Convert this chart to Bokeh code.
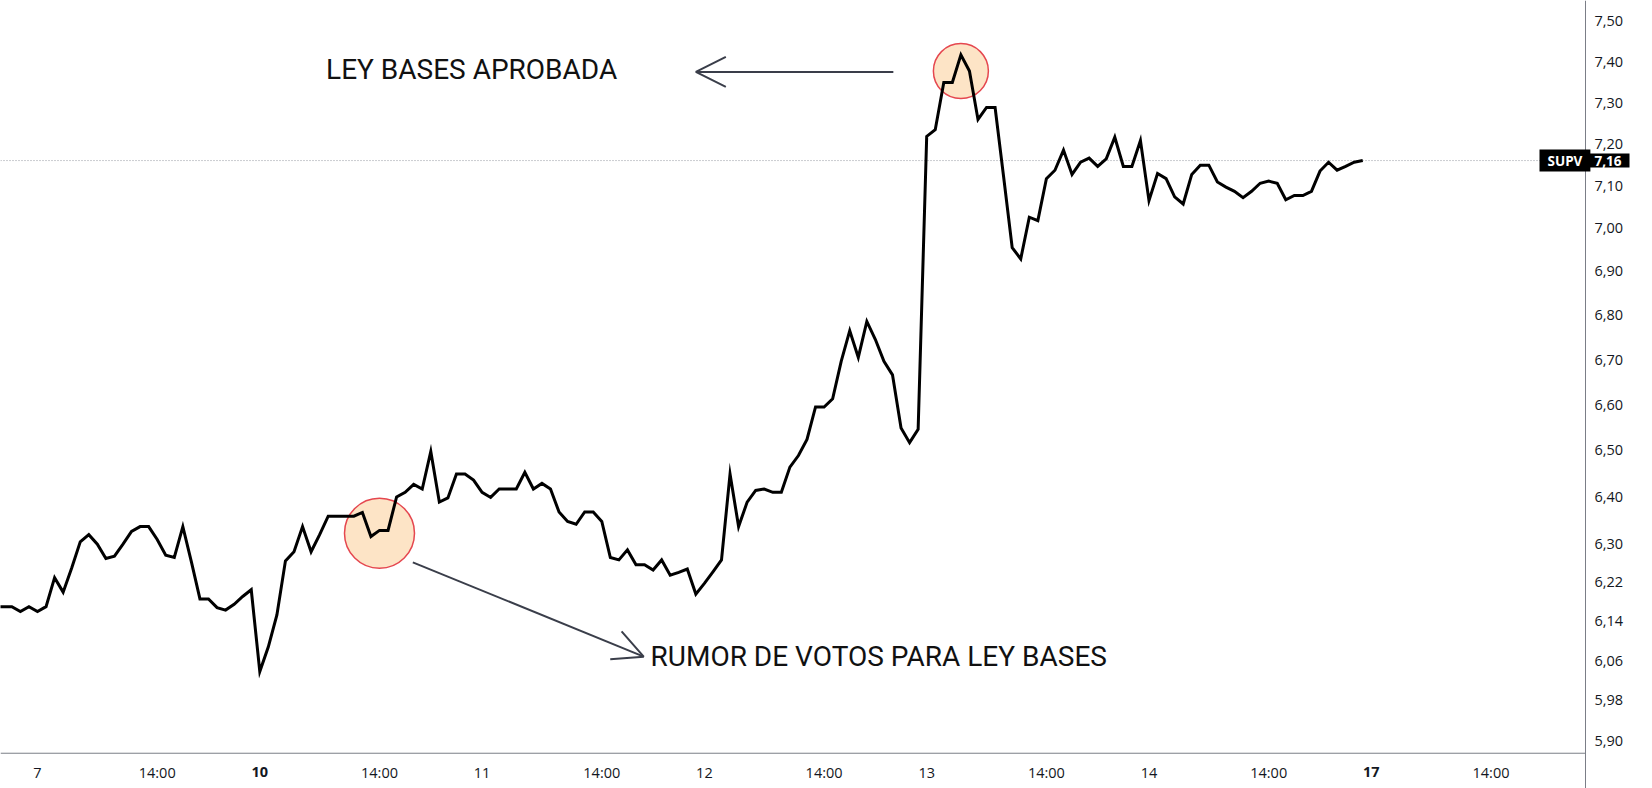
from bokeh.plotting import figure
from bokeh.models import (FixedTicker, CustomJSTickFormatter, Label, Arrow,
                          OpenHead, Range1d)
from bokeh.embed import file_html
from bokeh.resources import INLINE

# ---------------- data (15-minute bars, session 10:30-17:00 = 26 bars/day) -------------
BARS_PER_DAY = 26
jun06 = [6.17, 6.17, 6.17, 6.16, 6.17]
jun07 = [6.16, 6.17, 6.23, 6.20, 6.25, 6.305, 6.32, 6.30, 6.27, 6.275, 6.30, 6.327, 6.337,
         6.337, 6.31, 6.277, 6.272, 6.337, 6.263, 6.186, 6.186, 6.168, 6.163, 6.175, 6.191, 6.205]
jun10 = [6.038, 6.088, 6.153, 6.265, 6.284, 6.337, 6.284, 6.32, 6.359, 6.359, 6.359, 6.359, 6.367,
         6.316, 6.329, 6.329, 6.40, 6.41, 6.427, 6.417, 6.498, 6.389, 6.398, 6.449, 6.449, 6.436]
jun11 = [6.41, 6.399, 6.417, 6.417, 6.417, 6.453, 6.417, 6.429, 6.417, 6.368, 6.348, 6.342, 6.368,
         6.368, 6.348, 6.272, 6.267, 6.288, 6.257, 6.257, 6.246, 6.267, 6.235, 6.241, 6.248, 6.196]
jun12 = [6.218, 6.242, 6.267, 6.449, 6.337, 6.389, 6.414, 6.417, 6.41, 6.41, 6.464, 6.489, 6.524,
         6.595, 6.595, 6.613, 6.696, 6.765, 6.705, 6.786, 6.745, 6.696, 6.666, 6.549, 6.517, 6.546]
jun13 = [7.218, 7.234, 7.349, 7.349, 7.417, 7.377, 7.259, 7.288, 7.288, 7.121, 6.955, 6.929, 7.026,
         7.018, 7.117, 7.137, 7.185, 7.127, 7.156, 7.166, 7.146, 7.164, 7.216, 7.146, 7.146, 7.208]
jun14 = [7.065, 7.129, 7.117, 7.074, 7.057, 7.127, 7.149, 7.149, 7.109, 7.097, 7.087, 7.072, 7.087,
         7.106, 7.111, 7.106, 7.067, 7.077, 7.077, 7.087, 7.135, 7.156, 7.137, 7.146, 7.156, 7.16]

symbol = "SUPV"
last_price = 7.16

# x ticks: bar index of day start / 14:00
tick_bars = [0, 14, 26, 40, 52, 66, 78, 92, 104, 118, 130, 144, 156, 170]
tick_labels = ["7", "14:00", "10", "14:00", "11", "14:00", "12", "14:00", "13", "14:00",
               "14", "14:00", "17", "14:00"]
bold_labels = ["10", "17"]

y_ticks = [5.90, 5.98, 6.06, 6.14, 6.22, 6.30, 6.40, 6.50, 6.60, 6.70, 6.80, 6.90,
           7.00, 7.10, 7.20, 7.30, 7.40, 7.50]

# annotated events
event_bar = [40, 108]
event_price = [6.323, 7.377]
event_size = [70, 55]

note_texts = ["LEY BASES APROBADA", "RUMOR DE VOTOS PARA LEY BASES"]
note_bar = [33.75, 71.7]
note_price = [7.38, 6.068]
arrow_start_bar = [100.1, 43.9]
arrow_start_price = [7.375, 6.262]
arrow_end_bar = [77.0, 70.9]
arrow_end_price = [7.375, 6.068]

# --------------------------------------------------------------------------------------
prices = jun06 + jun07 + jun10 + jun11 + jun12 + jun13 + jun14
bars = list(range(-len(jun06), -len(jun06) + len(prices)))

X_START, X_END = -4.327, 188.89
Y_START, Y_END = 5.8069, 7.5527
PRICE_SCALE_BAR = 181.05     # where the price scale sits
TIME_AXIS_PRICE = 5.8756     # where the time scale sits

AX_FONT = "Open Sans"
TXT_COLOR = "#131722"
AXIS_COLOR = "#7b7e87"

p = figure(frame_width=1652, frame_height=788,
           x_range=Range1d(X_START, X_END), y_range=Range1d(Y_START, Y_END),
           y_axis_type="log", y_axis_location="right",
           output_backend="svg", toolbar_location=None,
           min_border_left=0, min_border_top=0, min_border_right=0, min_border_bottom=0,
           background_fill_color="white", border_fill_color="white",
           outline_line_color=None)
p.grid.visible = False

# axes
for ax in (p.xaxis[0], p.yaxis[0]):
    ax.axis_line_color = AXIS_COLOR
    ax.axis_line_width = 1
    ax.major_tick_in = 0
    ax.major_tick_out = 0
    ax.minor_tick_in = 0
    ax.minor_tick_out = 0
    ax.major_label_text_font = AX_FONT
    ax.major_label_text_font_size = "14.5px"
    ax.major_label_text_color = TXT_COLOR

p.xaxis.fixed_location = TIME_AXIS_PRICE
p.xaxis.axis_line_color = None
p.xaxis.ticker = FixedTicker(ticks=tick_bars)
p.xaxis.major_label_overrides = {b: ("" if l in bold_labels else l)
                                 for b, l in zip(tick_bars, tick_labels)}
p.xaxis.major_label_standoff = 10

p.yaxis.fixed_location = PRICE_SCALE_BAR
p.yaxis.ticker = FixedTicker(ticks=y_ticks)
p.yaxis.formatter = CustomJSTickFormatter(code="return tick.toFixed(2).replace('.', ',');")
p.yaxis.major_label_standoff = 9

# time-scale line (stops at the price scale)
p.segment(x0=[X_START], y0=[TIME_AXIS_PRICE], x1=[PRICE_SCALE_BAR], y1=[TIME_AXIS_PRICE],
          line_color=AXIS_COLOR, line_width=1)

# bold day labels
for b, l in zip(tick_bars, tick_labels):
    if l in bold_labels:
        p.add_layout(Label(x=b, y=17, y_units="screen", text=l, text_align="center",
                           text_baseline="middle", text_font=AX_FONT, text_font_size="14.5px",
                           text_font_style="bold", text_color=TXT_COLOR))

# last price dotted line
p.segment(x0=[X_START], y0=[last_price], x1=[PRICE_SCALE_BAR], y1=[last_price],
          line_color="#9598a1", line_width=1, line_dash="1 2")

# event circles (under the line)
p.scatter(event_bar, event_price, size=event_size, marker="circle",
          fill_color="#fde4c6", fill_alpha=1.0, line_color="#e5474f", line_width=1.5)

# price line
p.line(bars, prices, line_color="black", line_width=3, line_join="miter")

# arrows and notes
for xs, ys, xe, ye in zip(arrow_start_bar, arrow_start_price, arrow_end_bar, arrow_end_price):
    p.add_layout(Arrow(x_start=xs, y_start=ys, x_end=xe, y_end=ye,
                       line_color="#3a3e4a", line_width=2,
                       end=OpenHead(size=30, line_color="#3a3e4a", line_width=2)))

for t, xb, yp in zip(note_texts, note_bar, note_price):
    p.add_layout(Label(x=xb, y=yp, text=t, text_align="left", text_baseline="middle",
                       text_font="Roboto", text_font_size="28px",
                       text_color="#111111"))

# symbol / last price tags
p.add_layout(Label(x=1539, x_units="screen", y=last_price, text=symbol, text_align="left",
                   text_baseline="middle", text_font=AX_FONT, text_font_size="13.5px",
                   text_font_style="bold", text_color="white",
                   background_fill_color="black",
                   padding=dict(left=8, right=8, top=2, bottom=2)))
p.add_layout(Label(x=1586, x_units="screen", y=last_price,
                   text=f"{last_price:.2f}".replace(".", ","), text_align="left",
                   text_baseline="middle", text_font=AX_FONT, text_font_size="13.5px",
                   text_font_style="bold", text_color="white",
                   background_fill_color="black",
                   padding=dict(left=8, right=8, top=2, bottom=2)))

open("out.html", "w").write(file_html(p, INLINE))
